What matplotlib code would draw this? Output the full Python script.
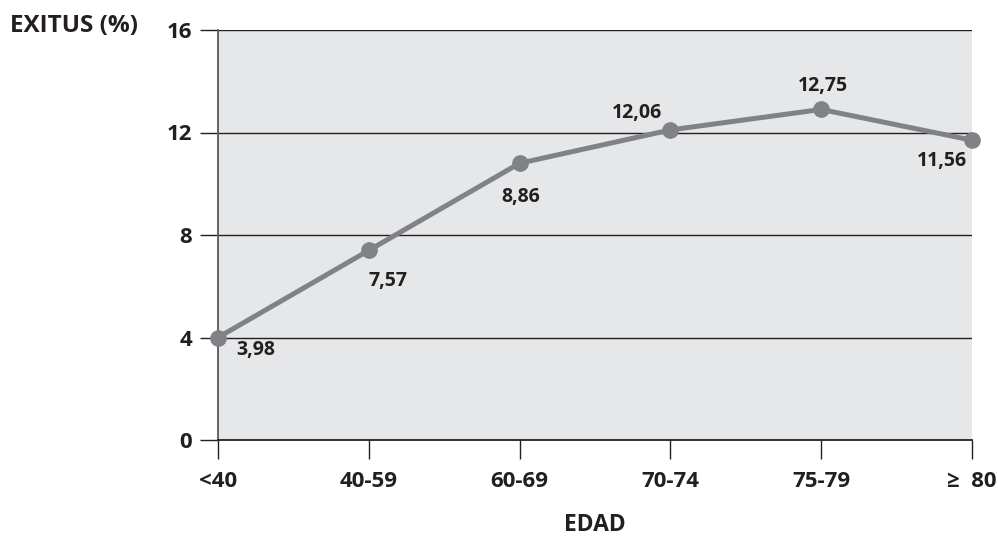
import matplotlib
matplotlib.use("Agg")
import matplotlib.pyplot as plt

plt.rcParams['font.family'] = ['Open Sans', 'DejaVu Sans']

categories = ["<40", "40-59", "60-69", "70-74", "75-79", "≥  80"]
values = [4.0, 7.4, 10.8, 12.1, 12.9, 11.7]
value_labels = ["3,98", "7,57", "8,86", "12,06", "12,75", "11,56"]
y_ticks = [0, 4, 8, 12, 16]

# label offsets in points (styling)
offsets = [(27, -9), (14, -22), (1, -24), (-24, 12), (1, 17), (-22, -15)]

TXT = "#231f20"
LINE = "#808285"

fig = plt.figure(figsize=(9.98, 5.39), dpi=100)
ax = fig.add_axes([218/998, 1-440/539, (972-218)/998, (440-30)/539])
ax.set_facecolor("#e6e7e8")

x = list(range(len(categories)))
ax.set_xlim(0, len(categories) - 1)
ax.set_ylim(0, 16)

for t in y_ticks[1:]:
    ax.axhline(t, color="#231f20", lw=1.0, zorder=1)

ax.plot(x, values, color=LINE, lw=3.6, marker="o", markersize=11,
        markerfacecolor=LINE, markeredgecolor=LINE, zorder=3, clip_on=False)

for xi, v, lab, off in zip(x, values, value_labels, offsets):
    ax.annotate(lab, (xi, v), xytext=off, textcoords="offset points",
                ha="center", va="center", fontsize=14, fontweight="bold", color=TXT)

ax.set_xticks(x)
ax.set_xticklabels(categories)
ax.set_yticks(y_ticks)
ax.set_yticklabels([str(t) for t in y_ticks])

for s in ["top", "right"]:
    ax.spines[s].set_visible(False)
ax.spines["left"].set_color("#58595b")
ax.spines["left"].set_linewidth(1.3)
ax.spines["bottom"].set_color("#231f20")
ax.spines["bottom"].set_linewidth(1.3)

ax.tick_params(axis="y", length=13, width=1.0, color="#231f20", pad=5.5,
               labelsize=16, labelcolor=TXT)
ax.tick_params(axis="x", length=14, width=1.0, color="#231f20", pad=8,
               labelsize=16, labelcolor=TXT)
for lbl in ax.get_xticklabels() + ax.get_yticklabels():
    lbl.set_fontweight("bold")

fig.text(10/998, 1-26/539, "EXITUS (%)", ha="left", va="center",
         fontsize=17.5, fontweight="bold", color=TXT)
fig.text(595/998, 1-525/539, "EDAD", ha="center", va="center",
         fontsize=16.5, fontweight="bold", color=TXT)

fig.savefig("out.png", dpi=100)
